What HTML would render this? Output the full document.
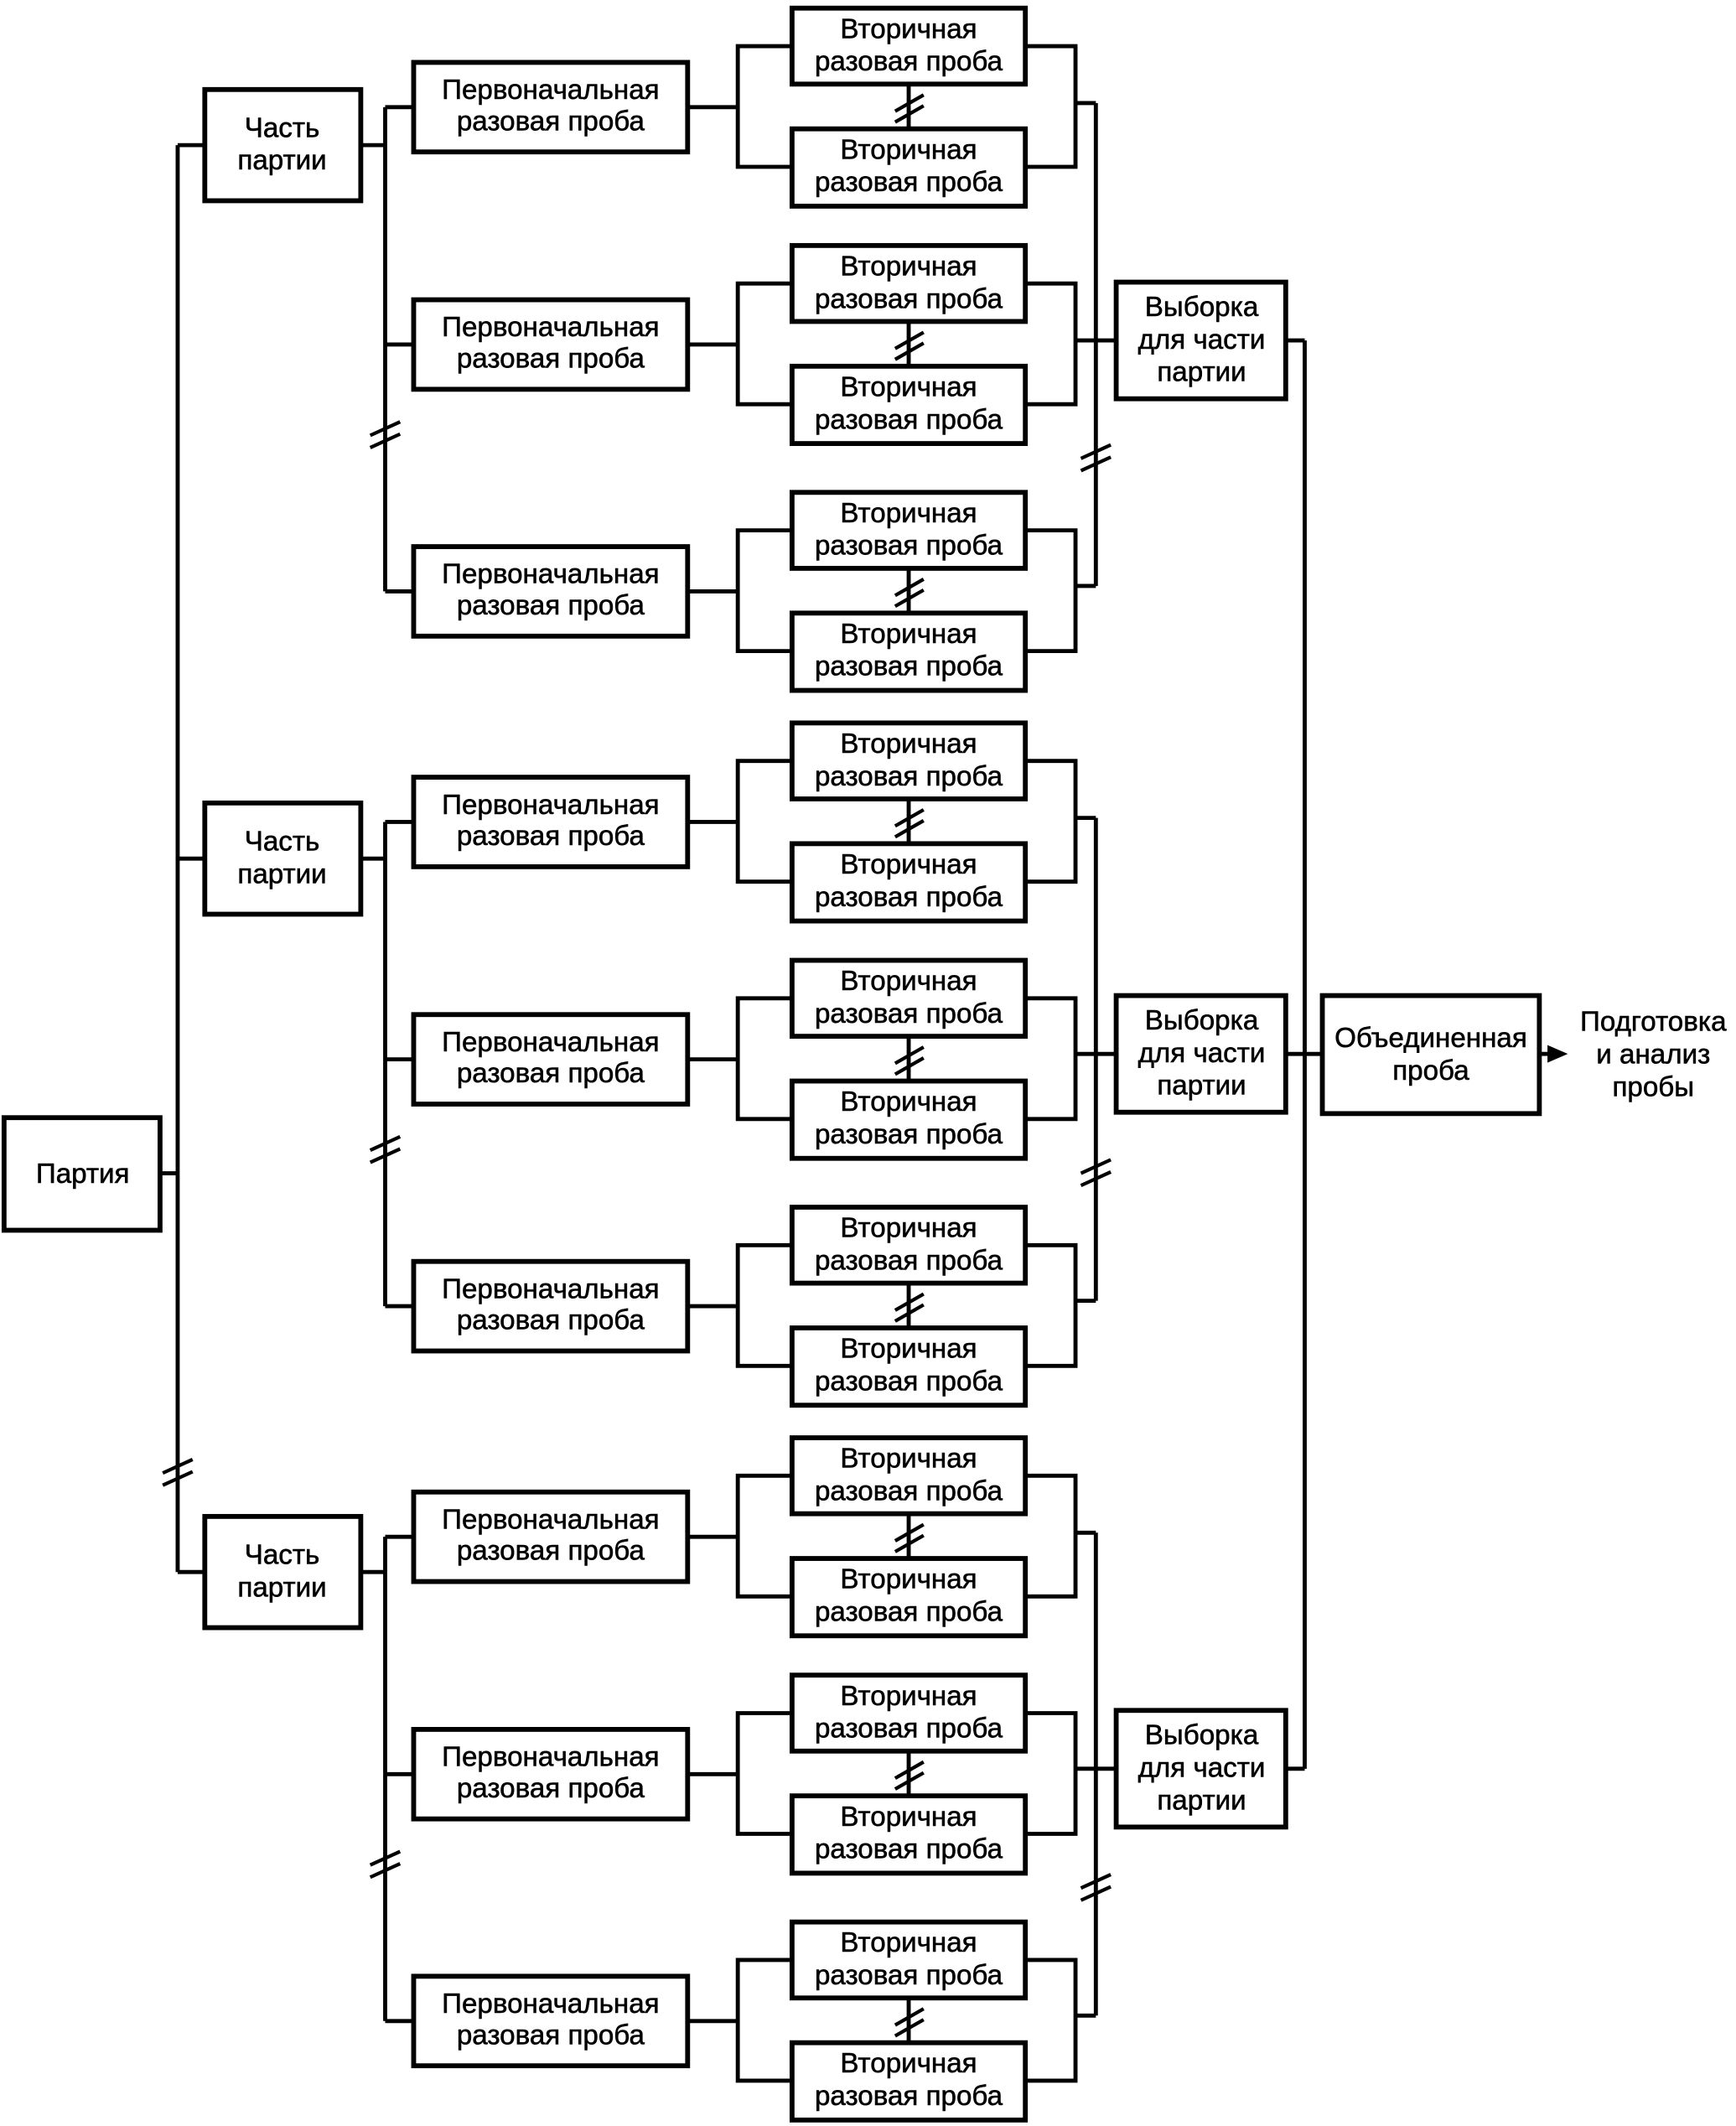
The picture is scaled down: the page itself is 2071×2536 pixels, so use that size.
<!DOCTYPE html>
<html><head><meta charset="utf-8"><style>
html,body{margin:0;padding:0;background:#fff;}
svg{display:block;}
text{font-family:"Liberation Sans",Arial,sans-serif;font-size:20.5px;fill:#000;text-anchor:middle;stroke:#000;stroke-width:0.35;}
.l{stroke:#000;stroke-width:3;fill:none;}
.b{stroke:#000;stroke-width:3.6;fill:#fff;}
.m{stroke:#000;stroke-width:2.6;fill:none;}
</style></head><body>
<svg width="2071" height="2536" viewBox="0 0 1280 1567.4" preserveAspectRatio="none" xmlns="http://www.w3.org/2000/svg">
<rect class="b" x="3" y="824" width="115" height="83"/><text x="61" y="872">Партия</text>
<line class="l" x1="118" y1="865" x2="131" y2="865"/>
<line class="l" x1="131" y1="107" x2="131" y2="1159"/>
<line class="l" x1="131" y1="107" x2="151" y2="107"/>
<line class="l" x1="131" y1="633" x2="151" y2="633"/>
<line class="l" x1="131" y1="1159" x2="151" y2="1159"/>
<path class="m" d="M120 1086 L142 1076 M120 1095 L142 1085"/>

<rect class="b" x="151" y="66" width="115" height="82"/><text x="208" y="101">Часть</text><text x="208" y="125">партии</text>
<rect class="b" x="151" y="592" width="115" height="82"/><text x="208" y="627">Часть</text><text x="208" y="651">партии</text>
<rect class="b" x="151" y="1118" width="115" height="82"/><text x="208" y="1153">Часть</text><text x="208" y="1177">партии</text>

<line class="l" x1="266" y1="107" x2="284" y2="107"/>
<line class="l" x1="266" y1="633" x2="284" y2="633"/>
<line class="l" x1="266" y1="1159" x2="284" y2="1159"/>
<line class="l" x1="284" y1="79" x2="284" y2="436"/>
<line class="l" x1="284" y1="606" x2="284" y2="963"/>
<line class="l" x1="284" y1="1133" x2="284" y2="1490"/>
<path class="m" d="M273 321 L295 311 M273 330 L295 320"/>
<path class="m" d="M273 848 L295 838 M273 857 L295 847"/>
<path class="m" d="M273 1375 L295 1365 M273 1384 L295 1374"/>

<line class="l" x1="808" y1="76" x2="808" y2="432"/>
<line class="l" x1="808" y1="603" x2="808" y2="959"/>
<line class="l" x1="808" y1="1130" x2="808" y2="1486"/>
<path class="m" d="M797 338 L819 328 M797 347 L819 337"/>
<path class="m" d="M797 865 L819 855 M797 874 L819 864"/>
<path class="m" d="M797 1392 L819 1382 M797 1401 L819 1391"/>

<g>
<line class="l" x1="284" y1="79" x2="305" y2="79"/>
<rect class="b" x="305" y="46" width="202" height="66"/><text x="406" y="73">Первоначальная</text><text x="406" y="96">разовая проба</text>
<line class="l" x1="507" y1="79" x2="544" y2="79"/>
<polyline class="l" points="584,34 544,34 544,123 584,123"/>
<polyline class="l" points="756,34 793,34 793,123 756,123"/>
<line class="l" x1="793" y1="76" x2="808" y2="76"/>
<line class="l" x1="670" y1="62" x2="670" y2="95"/>
<path class="m" d="M660 82 L681 70 M660 90 L681 78"/>
<rect class="b" x="584" y="6" width="172" height="56"/><text x="670" y="28">Вторичная</text><text x="670" y="52">разовая проба</text>
<rect class="b" x="584" y="95" width="172" height="57"/><text x="670" y="117">Вторичная</text><text x="670" y="141">разовая проба</text>
</g>
<g>
<line class="l" x1="284" y1="254" x2="305" y2="254"/>
<rect class="b" x="305" y="221" width="202" height="66"/><text x="406" y="248">Первоначальная</text><text x="406" y="271">разовая проба</text>
<line class="l" x1="507" y1="254" x2="544" y2="254"/>
<polyline class="l" points="584,209 544,209 544,298 584,298"/>
<polyline class="l" points="756,209 793,209 793,298 756,298"/>
<line class="l" x1="793" y1="251" x2="808" y2="251"/>
<line class="l" x1="670" y1="237" x2="670" y2="270"/>
<path class="m" d="M660 257 L681 245 M660 265 L681 253"/>
<rect class="b" x="584" y="181" width="172" height="56"/><text x="670" y="203">Вторичная</text><text x="670" y="227">разовая проба</text>
<rect class="b" x="584" y="270" width="172" height="57"/><text x="670" y="292">Вторичная</text><text x="670" y="316">разовая проба</text>
</g>
<g>
<line class="l" x1="284" y1="436" x2="305" y2="436"/>
<rect class="b" x="305" y="403" width="202" height="66"/><text x="406" y="430">Первоначальная</text><text x="406" y="453">разовая проба</text>
<line class="l" x1="507" y1="436" x2="544" y2="436"/>
<polyline class="l" points="584,391 544,391 544,480 584,480"/>
<polyline class="l" points="756,391 793,391 793,480 756,480"/>
<line class="l" x1="793" y1="432" x2="808" y2="432"/>
<line class="l" x1="670" y1="419" x2="670" y2="452"/>
<path class="m" d="M660 439 L681 427 M660 447 L681 435"/>
<rect class="b" x="584" y="363" width="172" height="56"/><text x="670" y="385">Вторичная</text><text x="670" y="409">разовая проба</text>
<rect class="b" x="584" y="452" width="172" height="57"/><text x="670" y="474">Вторичная</text><text x="670" y="498">разовая проба</text>
</g>
<g>
<line class="l" x1="284" y1="606" x2="305" y2="606"/>
<rect class="b" x="305" y="573" width="202" height="66"/><text x="406" y="600">Первоначальная</text><text x="406" y="623">разовая проба</text>
<line class="l" x1="507" y1="606" x2="544" y2="606"/>
<polyline class="l" points="584,561 544,561 544,650 584,650"/>
<polyline class="l" points="756,561 793,561 793,650 756,650"/>
<line class="l" x1="793" y1="603" x2="808" y2="603"/>
<line class="l" x1="670" y1="589" x2="670" y2="622"/>
<path class="m" d="M660 609 L681 597 M660 617 L681 605"/>
<rect class="b" x="584" y="533" width="172" height="56"/><text x="670" y="555">Вторичная</text><text x="670" y="579">разовая проба</text>
<rect class="b" x="584" y="622" width="172" height="57"/><text x="670" y="644">Вторичная</text><text x="670" y="668">разовая проба</text>
</g>
<g>
<line class="l" x1="284" y1="781" x2="305" y2="781"/>
<rect class="b" x="305" y="748" width="202" height="66"/><text x="406" y="775">Первоначальная</text><text x="406" y="798">разовая проба</text>
<line class="l" x1="507" y1="781" x2="544" y2="781"/>
<polyline class="l" points="584,736 544,736 544,825 584,825"/>
<polyline class="l" points="756,736 793,736 793,825 756,825"/>
<line class="l" x1="793" y1="777" x2="808" y2="777"/>
<line class="l" x1="670" y1="764" x2="670" y2="797"/>
<path class="m" d="M660 784 L681 772 M660 792 L681 780"/>
<rect class="b" x="584" y="708" width="172" height="56"/><text x="670" y="730">Вторичная</text><text x="670" y="754">разовая проба</text>
<rect class="b" x="584" y="797" width="172" height="57"/><text x="670" y="819">Вторичная</text><text x="670" y="843">разовая проба</text>
</g>
<g>
<line class="l" x1="284" y1="963" x2="305" y2="963"/>
<rect class="b" x="305" y="930" width="202" height="66"/><text x="406" y="957">Первоначальная</text><text x="406" y="980">разовая проба</text>
<line class="l" x1="507" y1="963" x2="544" y2="963"/>
<polyline class="l" points="584,918 544,918 544,1007 584,1007"/>
<polyline class="l" points="756,918 793,918 793,1007 756,1007"/>
<line class="l" x1="793" y1="959" x2="808" y2="959"/>
<line class="l" x1="670" y1="946" x2="670" y2="979"/>
<path class="m" d="M660 966 L681 954 M660 974 L681 962"/>
<rect class="b" x="584" y="890" width="172" height="56"/><text x="670" y="912">Вторичная</text><text x="670" y="936">разовая проба</text>
<rect class="b" x="584" y="979" width="172" height="57"/><text x="670" y="1001">Вторичная</text><text x="670" y="1025">разовая проба</text>
</g>
<g>
<line class="l" x1="284" y1="1133" x2="305" y2="1133"/>
<rect class="b" x="305" y="1100" width="202" height="66"/><text x="406" y="1127">Первоначальная</text><text x="406" y="1150">разовая проба</text>
<line class="l" x1="507" y1="1133" x2="544" y2="1133"/>
<polyline class="l" points="584,1088 544,1088 544,1177 584,1177"/>
<polyline class="l" points="756,1088 793,1088 793,1177 756,1177"/>
<line class="l" x1="793" y1="1130" x2="808" y2="1130"/>
<line class="l" x1="670" y1="1116" x2="670" y2="1149"/>
<path class="m" d="M660 1136 L681 1124 M660 1144 L681 1132"/>
<rect class="b" x="584" y="1060" width="172" height="56"/><text x="670" y="1082">Вторичная</text><text x="670" y="1106">разовая проба</text>
<rect class="b" x="584" y="1149" width="172" height="57"/><text x="670" y="1171">Вторичная</text><text x="670" y="1195">разовая проба</text>
</g>
<g>
<line class="l" x1="284" y1="1308" x2="305" y2="1308"/>
<rect class="b" x="305" y="1275" width="202" height="66"/><text x="406" y="1302">Первоначальная</text><text x="406" y="1325">разовая проба</text>
<line class="l" x1="507" y1="1308" x2="544" y2="1308"/>
<polyline class="l" points="584,1263 544,1263 544,1352 584,1352"/>
<polyline class="l" points="756,1263 793,1263 793,1352 756,1352"/>
<line class="l" x1="793" y1="1304" x2="808" y2="1304"/>
<line class="l" x1="670" y1="1291" x2="670" y2="1324"/>
<path class="m" d="M660 1311 L681 1299 M660 1319 L681 1307"/>
<rect class="b" x="584" y="1235" width="172" height="56"/><text x="670" y="1257">Вторичная</text><text x="670" y="1281">разовая проба</text>
<rect class="b" x="584" y="1324" width="172" height="57"/><text x="670" y="1346">Вторичная</text><text x="670" y="1370">разовая проба</text>
</g>
<g>
<line class="l" x1="284" y1="1490" x2="305" y2="1490"/>
<rect class="b" x="305" y="1457" width="202" height="66"/><text x="406" y="1484">Первоначальная</text><text x="406" y="1507">разовая проба</text>
<line class="l" x1="507" y1="1490" x2="544" y2="1490"/>
<polyline class="l" points="584,1445 544,1445 544,1534 584,1534"/>
<polyline class="l" points="756,1445 793,1445 793,1534 756,1534"/>
<line class="l" x1="793" y1="1486" x2="808" y2="1486"/>
<line class="l" x1="670" y1="1473" x2="670" y2="1506"/>
<path class="m" d="M660 1493 L681 1481 M660 1501 L681 1489"/>
<rect class="b" x="584" y="1417" width="172" height="56"/><text x="670" y="1439">Вторичная</text><text x="670" y="1463">разовая проба</text>
<rect class="b" x="584" y="1506" width="172" height="57"/><text x="670" y="1528">Вторичная</text><text x="670" y="1552">разовая проба</text>
</g>

<line class="l" x1="808" y1="251" x2="823" y2="251"/>
<line class="l" x1="808" y1="777" x2="823" y2="777"/>
<line class="l" x1="808" y1="1304" x2="823" y2="1304"/>
<rect class="b" x="823" y="208" width="125" height="86"/><text x="886" y="233">Выборка</text><text x="886" y="257">для части</text><text x="886" y="281">партии</text>
<rect class="b" x="823" y="734" width="125" height="86"/><text x="886" y="759">Выборка</text><text x="886" y="783">для части</text><text x="886" y="807">партии</text>
<rect class="b" x="823" y="1261" width="125" height="86"/><text x="886" y="1286">Выборка</text><text x="886" y="1310">для части</text><text x="886" y="1334">партии</text>
<line class="l" x1="948" y1="251" x2="962" y2="251"/>
<line class="l" x1="948" y1="777" x2="975" y2="777"/>
<line class="l" x1="948" y1="1304" x2="962" y2="1304"/>
<line class="l" x1="962" y1="251" x2="962" y2="1304"/>

<rect class="b" x="975" y="734" width="160" height="87"/><text x="1055" y="772">Объединенная</text><text x="1055" y="796">проба</text>
<line class="l" x1="1135" y1="777" x2="1143" y2="777"/>
<polygon points="1141,770.5 1156,777 1141,783.5" fill="#000"/>
<text x="1219" y="760">Подготовка</text><text x="1219" y="784">и анализ</text><text x="1219" y="808">пробы</text>
</svg>
</body></html>
